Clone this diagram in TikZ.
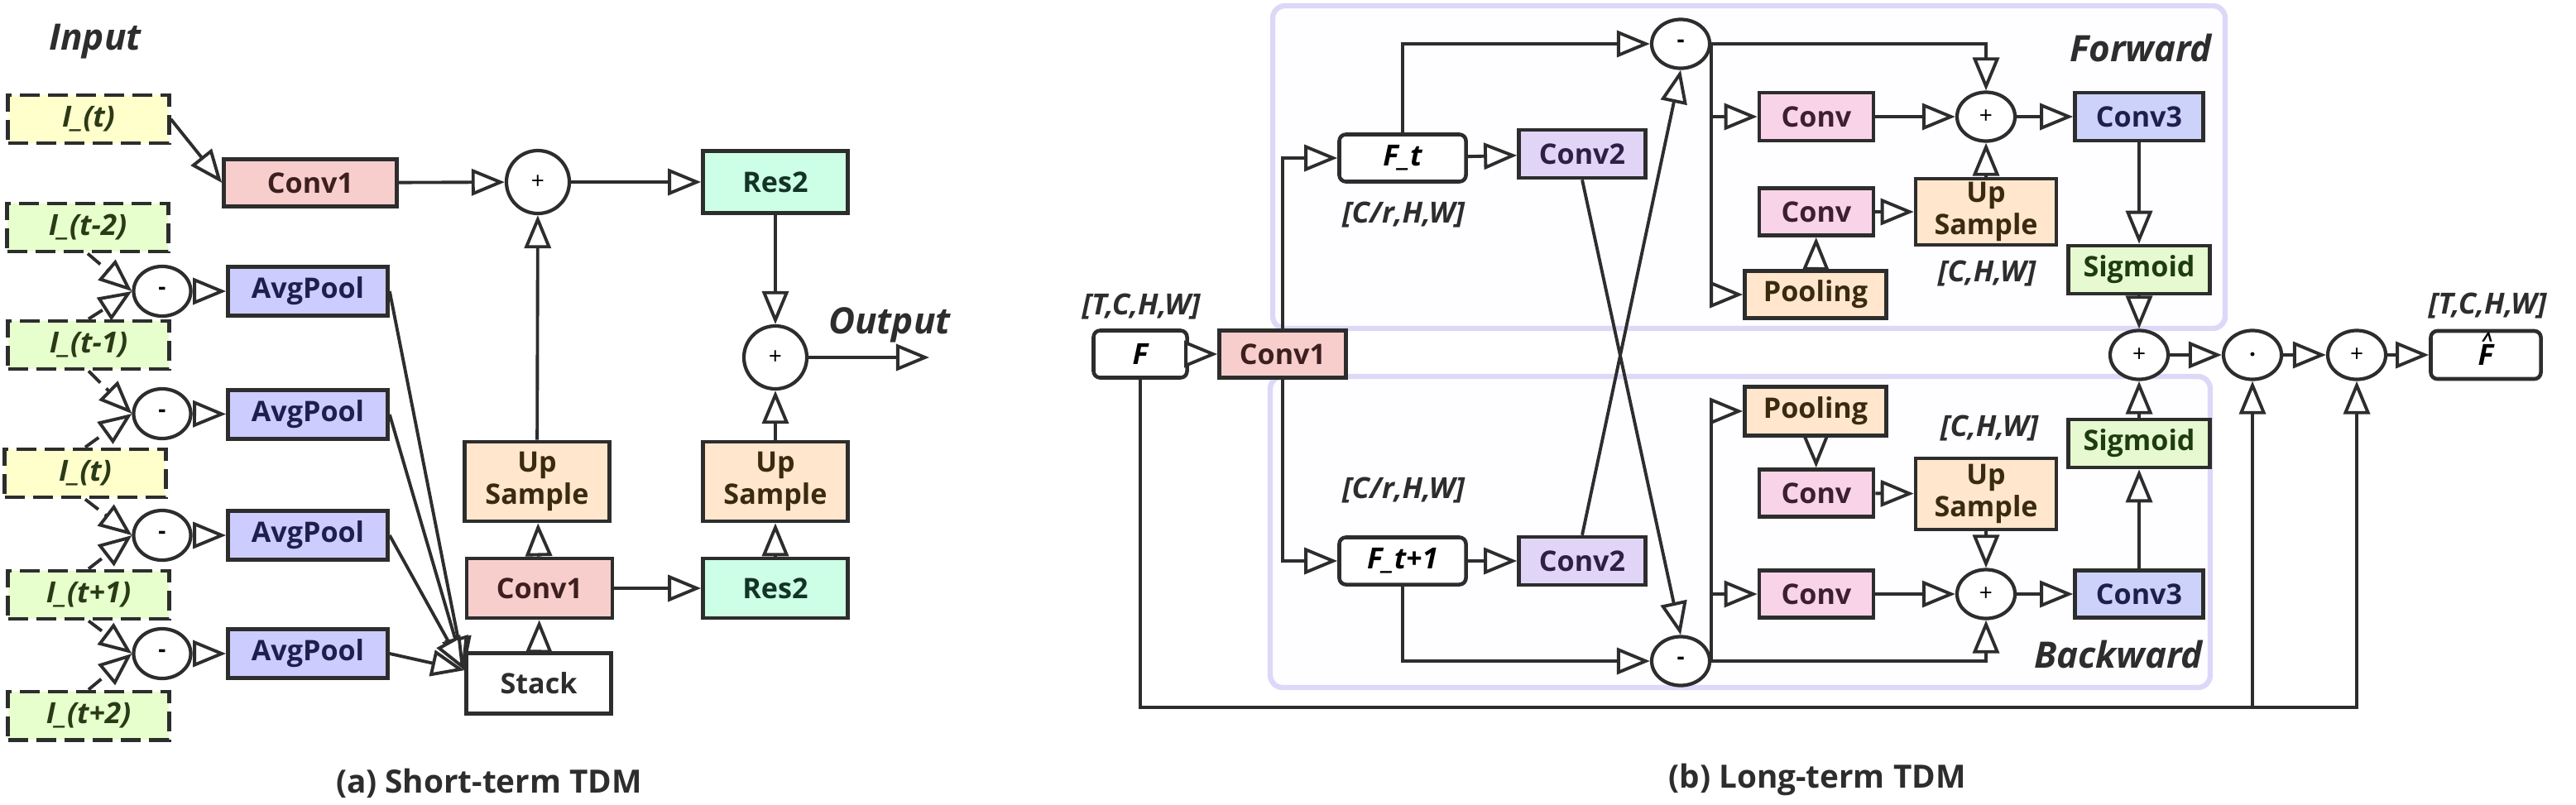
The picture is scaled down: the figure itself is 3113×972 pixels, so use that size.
\documentclass[tikz,border=0pt]{standalone}
\usepackage{fontspec}
\setmainfont{Open Sans}
\usetikzlibrary{arrows.meta,shapes.geometric}
\definecolor{linec}{HTML}{2D2D2D}
\definecolor{convred}{HTML}{F8CECC}
\definecolor{poolblue}{HTML}{CCCCFF}
\definecolor{resgreen}{HTML}{CCFFE6}
\definecolor{upbeige}{HTML}{FFE6CC}
\definecolor{inyellow}{HTML}{FFFFCC}
\definecolor{ingreen}{HTML}{E6FFCC}
\definecolor{convpurple}{HTML}{E1D5F7}
\definecolor{convpink}{HTML}{F9D3E7}
\definecolor{convblue}{HTML}{CCD2FA}
\definecolor{siggreen}{HTML}{E6F9D0}
\definecolor{groupline}{HTML}{DCD8F8}
\definecolor{groupfill}{HTML}{FEFDFF}
\definecolor{intext}{HTML}{2B3A16}
\definecolor{redtext}{HTML}{3D1F1F}
\definecolor{bluetext}{HTML}{1F1F4D}
\definecolor{greentext}{HTML}{133326}
\definecolor{beigetext}{HTML}{3A2A12}
\definecolor{purpletext}{HTML}{2E1F47}
\definecolor{pinktext}{HTML}{3D1F33}
\definecolor{sigtext}{HTML}{1E3D0F}

\begin{document}
\begin{tikzpicture}[x=0.01cm,y=-0.01cm]
  \tikzset{
    blk/.style={rectangle, draw=linec, line width=1.3pt, inner sep=0pt, align=center,
      font=\bfseries\fontsize{9.7}{11}\selectfont},
    rblk/.style={blk, rounded corners=0.08cm, fill=white, font=\bfseries\itshape\fontsize{10}{11}\selectfont},
    inbox/.style={blk, dash pattern=on 0.24cm off 0.1cm, line width=1.4pt, minimum width=1.94cm, minimum height=0.58cm,
      text=intext, font=\bfseries\itshape\fontsize{10}{11}\selectfont},
    avgpool/.style={blk, fill=poolblue, text=bluetext, minimum width=1.93cm, minimum height=0.59cm},
    op/.style={ellipse, draw=linec, line width=1.2pt, fill=white, inner sep=0pt,
      minimum width=0.7cm, minimum height=0.59cm, font=\fontsize{8}{8}\selectfont},
    bigop/.style={op, minimum width=0.76cm, minimum height=0.76cm},
    dim/.style={font=\bfseries\itshape\fontsize{10}{11}\selectfont, text=linec},
    title/.style={font=\bfseries\itshape\fontsize{12.5}{14}\selectfont, text=linec},
    caption/.style={font=\bfseries\fontsize{11}{13}\selectfont, text=linec},
    arr/.style={draw=linec, line width=1.1pt, -{Triangle[fill=white, length=0.4cm, width=0.32cm]}},
    dlink/.style={arr, dash pattern=on 0.2cm off 0.1cm},
    wire/.style={draw=linec, line width=1.1pt}
  }
  \useasboundingbox (0,0) rectangle (3113,972);

  % (a) short-term
  \node[title] (input) at (115,50) {Input};
  \node[inbox, fill=inyellow] (it) at (107,144) {I\_(t)};
  \node[inbox, fill=ingreen] (itmtwo) at (106,275) {I\_(t-2)};
  \node[inbox, fill=ingreen] (itmone) at (107,417) {I\_(t-1)};
  \node[inbox, fill=inyellow] (itc) at (103,572) {I\_(t)};
  \node[inbox, fill=ingreen] (itpone) at (107,719) {I\_(t+1)};
  \node[inbox, fill=ingreen] (itptwo) at (107,865) {I\_(t+2)};

  \node[op, minimum width=0.69cm, minimum height=0.6cm] (suba) at (196,352) {\textbf{-}};
  \node[op, minimum width=0.69cm, minimum height=0.6cm] (subb) at (196,500) {\textbf{-}};
  \node[op, minimum width=0.69cm, minimum height=0.6cm] (subc) at (196,647) {\textbf{-}};
  \node[op, minimum width=0.69cm, minimum height=0.6cm] (subd) at (196,790) {\textbf{-}};

  \node[avgpool] (poola) at (372,352) {AvgPool};
  \node[avgpool] (poolb) at (372,501) {AvgPool};
  \node[avgpool] (poolc) at (372,647) {AvgPool};
  \node[avgpool] (poold) at (372,790) {AvgPool};

  \node[blk, fill=convred, text=redtext, minimum width=2.09cm, minimum height=0.57cm] (convtop) at (375,221) {Conv1};
  \node[bigop] (sumtop) at (650,220) {+};
  \node[blk, fill=resgreen, text=greentext, minimum width=1.75cm, minimum height=0.75cm] (restop) at (937,220) {Res2};
  \node[bigop] (sumout) at (937,432) {+};
  \node[title] (output) at (1075,393) {Output};
  \coordinate (outend) at (1123,432);

  \node[blk, fill=upbeige, text=beigetext, minimum width=1.75cm, minimum height=0.96cm] (upl) at (649,582) {Up\\Sample};
  \node[blk, fill=upbeige, text=beigetext, minimum width=1.75cm, minimum height=0.96cm] (upr) at (937,582) {Up\\Sample};
  \node[blk, fill=convred, text=redtext, minimum width=1.76cm, minimum height=0.72cm] (convlow) at (652,711) {Conv1};
  \node[blk, fill=resgreen, text=greentext, minimum width=1.75cm, minimum height=0.72cm] (reslow) at (937,711) {Res2};
  \node[blk, fill=white, text=linec, minimum width=1.75cm, minimum height=0.73cm] (stack) at (651,826) {Stack};

  \draw[arr] (it.east) -- (convtop.west);
  \draw[arr] (convtop) -- (sumtop);
  \draw[arr] (sumtop) -- (restop);
  \draw[arr] (restop) -- (sumout);
  \draw[arr] (upr) -- (sumout);
  \draw[arr] (sumout) -- (outend);
  \draw[arr] (upl) -- (sumtop);
  \draw[arr] (convlow) -- (upl);
  \draw[arr] (stack) -- (convlow);
  \draw[arr] (convlow) -- (reslow);
  \draw[arr] (reslow) -- (upr);

  \draw[dlink] (itmtwo.south) -- (suba.west);
  \draw[dlink] (itmone.north) -- (suba.west);
  \draw[dlink] (itmone.south) -- (subb.west);
  \draw[dlink] (itc.north) -- (subb.west);
  \draw[dlink] (itc.south) -- (subc.west);
  \draw[dlink] (itpone.north) -- (subc.west);
  \draw[dlink] (itpone.south) -- (subd.west);
  \draw[dlink] (itptwo.north) -- (subd.west);

  \foreach \s/\p in {suba/poola, subb/poolb, subc/poolc, subd/poold}{
    \draw[arr] (\s) -- (\p);
    \draw[arr] (\p.east) -- (stack.170);
  }

  \node[caption] (capa) at (591,947) {(a) Short-term TDM};

  % (b) long-term
  \draw[groupline, line width=1.8pt, fill=groupfill, rounded corners=0.15cm] (1538,7) rectangle (2689,397);
  \draw[groupline, line width=1.8pt, fill=groupfill, rounded corners=0.15cm] (1535,455) rectangle (2671,831);
  \node[title] (fwd) at (2587,58) {Forward};
  \node[title] (bwd) at (2560,791) {Backward};

  \node[dim] (dimin) at (1379,371) {[T,C,H,W]};
  \node[rblk, minimum width=1.13cm, minimum height=0.57cm] (fin) at (1378,428) {F};
  \node[blk, fill=convred, text=redtext, minimum width=1.53cm, minimum height=0.57cm] (convone) at (1550,428) {Conv1};

  \node[rblk, minimum width=1.53cm, minimum height=0.57cm] (ft) at (1695,191) {F\_t};
  \node[dim] (dimft) at (1696,260) {[C/r,H,W]};
  \node[blk, fill=convpurple, text=purpletext, minimum width=1.53cm, minimum height=0.58cm] (convtwof) at (1912,186) {Conv2};
  \node[op] (subf) at (2031,53) {\textbf{-}};

  \node[dim] (dimftp) at (1696,593) {[C/r,H,W]};
  \node[rblk, minimum width=1.53cm, minimum height=0.57cm] (ftp) at (1695,678) {F\_t+1};
  \node[blk, fill=convpurple, text=purpletext, minimum width=1.53cm, minimum height=0.58cm] (convtwob) at (1912,678) {Conv2};
  \node[op] (subb) at (2031,799) {\textbf{-}};

  % forward branch
  \node[blk, fill=convpink, text=pinktext, minimum width=1.38cm, minimum height=0.58cm] (fconvtop) at (2195,141) {Conv};
  \node[op] (fsum) at (2400,141) {+};
  \node[blk, fill=convblue, text=bluetext, minimum width=1.55cm, minimum height=0.58cm] (fconvthree) at (2585,141) {Conv3};
  \node[blk, fill=convpink, text=pinktext, minimum width=1.38cm, minimum height=0.57cm] (fconvmid) at (2195,256) {Conv};
  \node[blk, fill=upbeige, text=beigetext, minimum width=1.71cm, minimum height=0.57cm] (fpool) at (2194,356) {Pooling};
  \node[blk, fill=upbeige, text=beigetext, minimum width=1.70cm, minimum height=0.8cm] (fup) at (2400,256) {Up\\Sample};
  \node[dim] (dimf) at (2401,331) {[C,H,W]};
  \node[blk, fill=siggreen, text=sigtext, minimum width=1.71cm, minimum height=0.58cm] (fsig) at (2585,326) {Sigmoid};

  % backward branch
  \node[blk, fill=upbeige, text=beigetext, minimum width=1.71cm, minimum height=0.59cm] (bpool) at (2194,497) {Pooling};
  \node[blk, fill=convpink, text=pinktext, minimum width=1.38cm, minimum height=0.57cm] (bconvmid) at (2195,596) {Conv};
  \node[blk, fill=upbeige, text=beigetext, minimum width=1.70cm, minimum height=0.86cm] (bup) at (2400,597) {Up\\Sample};
  \node[dim] (dimb) at (2404,518) {[C,H,W]};
  \node[blk, fill=convpink, text=pinktext, minimum width=1.38cm, minimum height=0.57cm] (bconvbot) at (2195,718) {Conv};
  \node[op] (bsum) at (2400,718) {+};
  \node[blk, fill=convblue, text=bluetext, minimum width=1.55cm, minimum height=0.57cm] (bconvthree) at (2585,718) {Conv3};
  \node[blk, fill=siggreen, text=sigtext, minimum width=1.71cm, minimum height=0.58cm] (bsig) at (2585,536) {Sigmoid};

  % fusion
  \node[op] (psum) at (2585,429) {+};
  \node[op] (pmul) at (2722,429) {\textbf{.}};
  \node[op] (pres) at (2848,429) {+};
  \node[rblk, minimum width=1.33cm, minimum height=0.58cm] (fout) at (3004,429)
    {\makebox[0pt][l]{\raisebox{0.62em}[0pt][0pt]{\kern0.12em\fontsize{7}{7}\selectfont\textasciicircum}}F};
  \node[dim] (dimout) at (3006,370) {[T,C,H,W]};
  \coordinate (bot) at (2848,855);

  \draw[arr] (fin) -- (convone);
  \draw[arr] (convone.north) |- (ft.west);
  \draw[arr] (convone.south) |- (ftp.west);
  \draw[arr] (ft) -- (convtwof);
  \draw[arr] (ftp) -- (convtwob);
  \draw[arr] (ft.north) |- (subf.west);
  \draw[arr] (ftp.south) |- (subb.west);
  \draw[arr] (convtwof.south) -- (subb.north);
  \draw[arr] (convtwob.north) -- (subf.south);

  \draw[arr] (subf.east) -| (fsum.north);
  \draw[arr] (subf.east) |- (fconvtop.west);
  \draw[arr] (subf.east) |- (fpool.west);
  \draw[arr] (fpool) -- (fconvmid);
  \draw[arr] (fconvmid) -- (fup);
  \draw[arr] (fup) -- (fsum);
  \draw[arr] (fconvtop) -- (fsum);
  \draw[arr] (fsum) -- (fconvthree);
  \draw[arr] (fconvthree) -- (fsig);
  \draw[arr] (fsig) -- (psum);

  \draw[arr] (subb.east) -| (bsum.south);
  \draw[arr] (subb.east) |- (bconvbot.west);
  \draw[arr] (subb.east) |- (bpool.west);
  \draw[arr] (bpool) -- (bconvmid);
  \draw[arr] (bconvmid) -- (bup);
  \draw[arr] (bup) -- (bsum);
  \draw[arr] (bconvbot) -- (bsum);
  \draw[arr] (bsum) -- (bconvthree);
  \draw[arr] (bconvthree) -- (bsig);
  \draw[arr] (bsig) -- (psum);

  \draw[arr] (psum) -- (pmul);
  \draw[arr] (pmul) -- (pres);
  \draw[arr] (pres) -- (fout);
  \draw[arr] (fin.south) |- (bot) -- (pres.south);
  \draw[arr] (pmul.south |- bot) -- (pmul.south);

  \node[caption] (capb) at (2196,942) {(b) Long-term TDM};
\end{tikzpicture}
\end{document}
